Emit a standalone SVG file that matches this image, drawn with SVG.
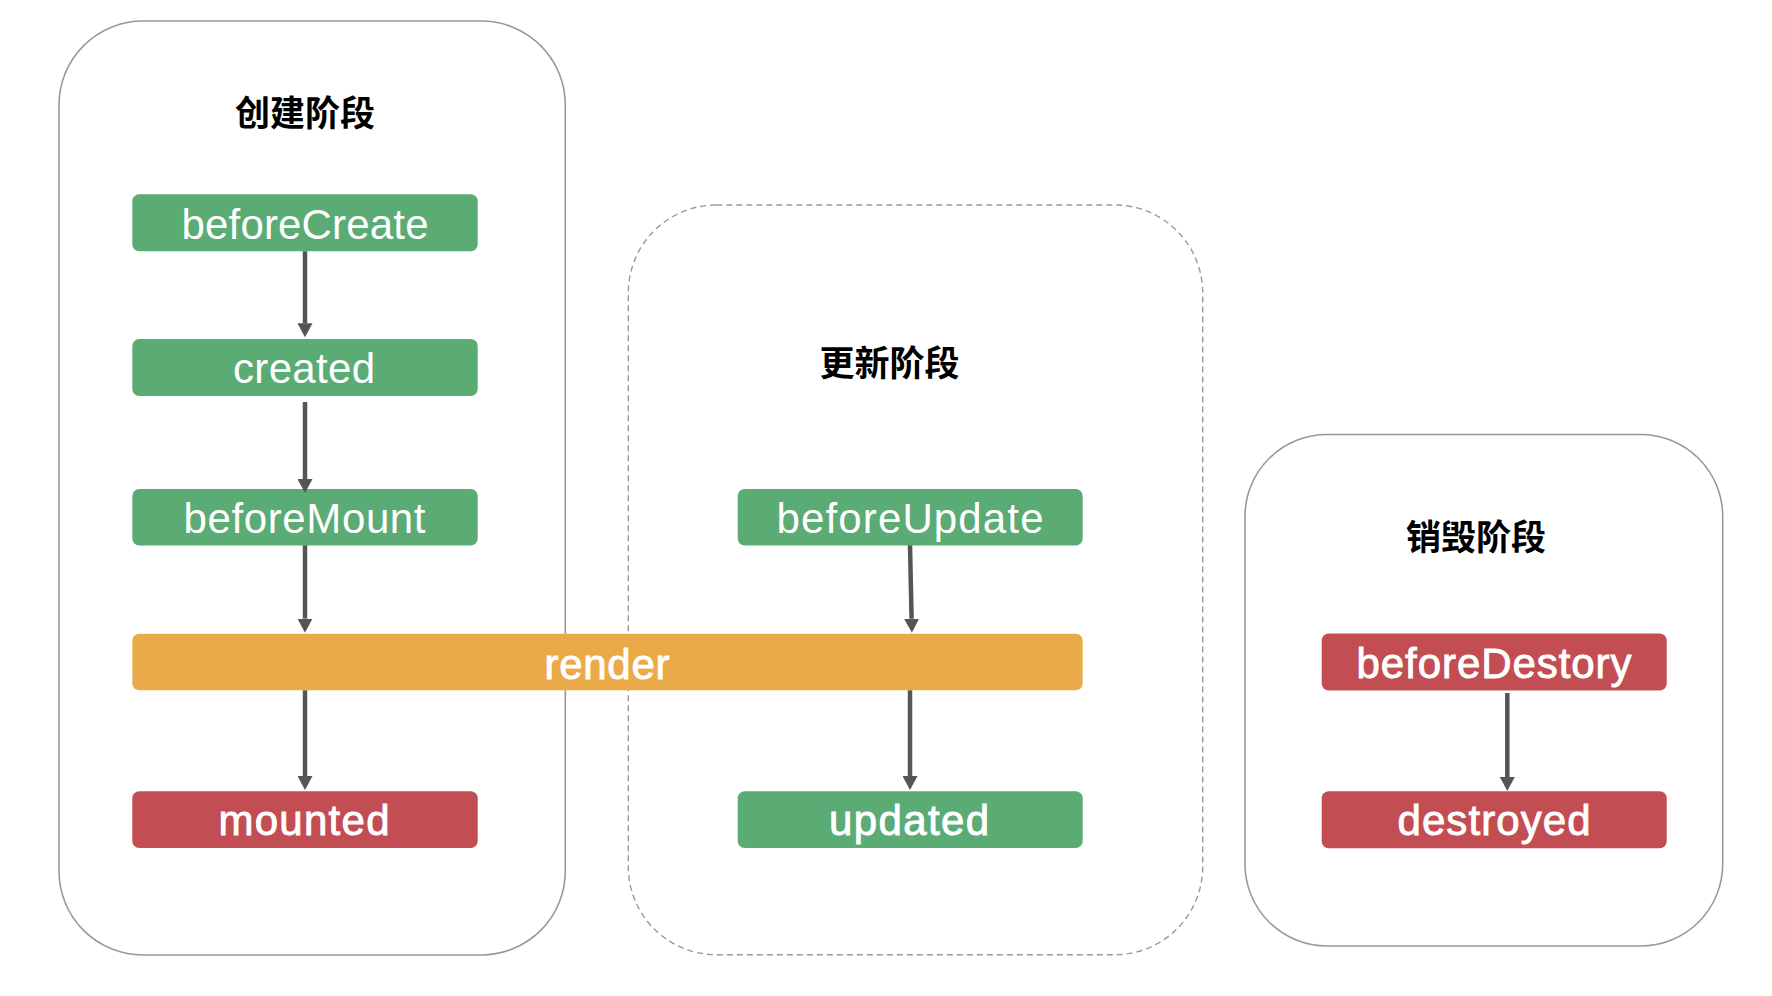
<svg xmlns="http://www.w3.org/2000/svg" width="1772" height="996" viewBox="0 0 1772 996">
<style>
.stage{fill:#fff;stroke:#999;stroke-width:1.6}
.dash{fill:none;stroke:#999;stroke-width:1.4;stroke-dasharray:6 4}
.title{font-family:"Noto Sans CJK SC","Noto Sans",sans-serif;font-weight:700;font-size:35px;fill:#000;text-anchor:middle}
.lbl{font-family:"Liberation Sans",Arial,sans-serif;font-size:42px;fill:#fff;text-anchor:middle}
.med{stroke:#fff;stroke-width:0.9}
.g{fill:#5BAB74}
.o{fill:#EBAA4A}
.r{fill:#C24D52}
.conn path{fill:none;stroke:#555;stroke-width:4.5;marker-end:url(#ah)}
</style>
<defs>
<marker id="ah" markerUnits="userSpaceOnUse" markerWidth="14" markerHeight="15" viewBox="0 0 14 15" refX="0" refY="7.5" orient="auto">
<path d="M0,0 L14,7.5 L0,15 z" fill="#555"/>
</marker>
</defs>
<rect width="1772" height="996" fill="#fff"/>
<g id="stage-create">
<rect class="stage" x="59" y="21" width="506.3" height="934" rx="84" ry="84"/>
<text class="title" x="305" y="125.5">创建阶段</text>
</g>
<g id="stage-update">
<rect class="dash" x="628.3" y="205" width="574.4" height="749.7" rx="88" ry="88"/>
<text class="title" x="889.5" y="375.5">更新阶段</text>
</g>
<g id="stage-destroy">
<rect class="stage" x="1245" y="434.5" width="477.7" height="511.5" rx="82" ry="82"/>
<text class="title" x="1476" y="550">销毁阶段</text>
</g>
<g id="beforeCreate">
<rect class="g" x="132.3" y="194.3" width="345.4" height="57" rx="7"/>
<text class="lbl" x="305" y="239.3" textLength="247">beforeCreate</text>
</g>
<g id="created">
<rect class="g" x="132.3" y="339" width="345.4" height="57" rx="7"/>
<text class="lbl" x="304" y="382.5" textLength="142">created</text>
</g>
<g id="beforeMount">
<rect class="g" x="132.3" y="489" width="345.4" height="56.5" rx="7"/>
<text class="lbl" x="304.5" y="533.3" textLength="242">beforeMount</text>
</g>
<g id="render">
<rect class="o" x="132.3" y="633.7" width="950.4" height="56.6" rx="7"/>
<text class="lbl med" x="607" y="679" textLength="125">render</text>
</g>
<g id="mounted">
<rect class="r" x="132.3" y="791.3" width="345.4" height="56.7" rx="7"/>
<text class="lbl med" x="304" y="835" textLength="171">mounted</text>
</g>
<g id="beforeUpdate">
<rect class="g" x="737.7" y="489" width="345" height="56.5" rx="7"/>
<text class="lbl" x="910" y="533.3" textLength="267">beforeUpdate</text>
</g>
<g id="updated">
<rect class="g" x="737.7" y="791.3" width="345" height="56.7" rx="7"/>
<text class="lbl med" x="909" y="835" textLength="160">updated</text>
</g>
<g id="beforeDestory">
<rect class="r" x="1321.7" y="633.5" width="345" height="57" rx="7"/>
<text class="lbl med" x="1494" y="677.5" textLength="275">beforeDestory</text>
</g>
<g id="destroyed">
<rect class="r" x="1321.7" y="791.2" width="345" height="57" rx="7"/>
<text class="lbl med" x="1494" y="835" textLength="193">destroyed</text>
</g>
<g id="connectors" class="conn">
<path d="M305,251.3 L305,323.3"/>
<path d="M305,402 L305,479"/>
<path d="M305,545.3 L305,618.7"/>
<path d="M305,690.3 L305,776"/>
<path d="M910,545.3 L911.6,618.7"/>
<path d="M910,690.3 L910,776"/>
<path d="M1507.3,693 L1507.3,777"/>
</g>
</svg>
